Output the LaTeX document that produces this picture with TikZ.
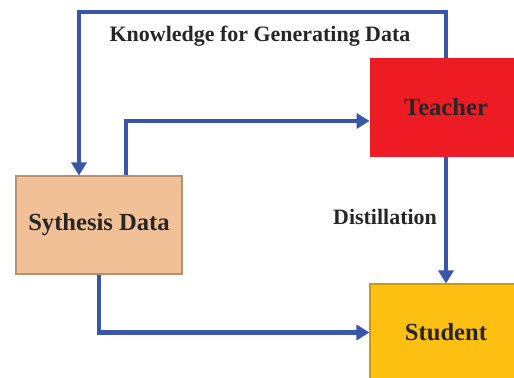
\documentclass[tikz,border=0pt]{standalone}
\usepackage{fontspec}
\setmainfont{Liberation Serif}
\usetikzlibrary{arrows.meta,calc}
\definecolor{flowblue}{RGB}{58,86,168}
\definecolor{teachred}{RGB}{237,28,36}
\definecolor{studyellow}{RGB}{252,191,18}
\definecolor{synthpeach}{RGB}{242,192,150}

\begin{document}
\begin{tikzpicture}
      [x = 0.02cm, y = -0.02cm,
      flow/.style={
         draw = flowblue,
         line width = 2.3pt,
         -{Triangle[length = 0.26cm, width = 0.3cm]}
      },
      plain/.style={
         draw = flowblue,
         line width = 2.3pt
      },
      box/.style= {
         inner sep = 0pt,
         font = \fontsize{14}{16}\bfseries,
         text = black!85
      },
      tag/.style= {
         font = \fontsize{12.5}{15}\bfseries,
         text = black!85
      }]

      \useasboundingbox (0, 0) rectangle (514, 378);
      \clip (0, 0) rectangle (514, 378);

      \node[box, fill = teachred, minimum width = 3.04cm, minimum height = 1.98cm]
         (teacher) at (446, 107.5) {Teacher};
      \node[box, fill = studyellow, draw = studyellow!80!black, line width = 0.6pt,
         minimum width = 3.04cm, minimum height = 1.94cm]
         (student) at (446, 332.5) {Student};
      \node[box, fill = synthpeach, draw = synthpeach!75!black, line width = 0.6pt,
         minimum width = 3.32cm, minimum height = 1.96cm]
         (synth) at (99, 225) {Sythesis Data};

      \coordinate (loopTop) at (79, 12);
      \coordinate (upTurn) at (126, 121);

      \draw[flow] (teacher.north) |- (loopTop) -- (loopTop |- synth.north);
      \draw[flow] (upTurn |- synth.north) -- (upTurn) -- (upTurn -| teacher.west);
      \draw[flow] (teacher.south) -- (student.north);
      \draw[flow] (synth.south) |- (student.west);

      \node[tag] (knowLabel) at (260, 36) {Knowledge for Generating Data};
      \node[tag] (distLabel) at (385, 217) {Distillation};

   \end{tikzpicture}
\end{document}
